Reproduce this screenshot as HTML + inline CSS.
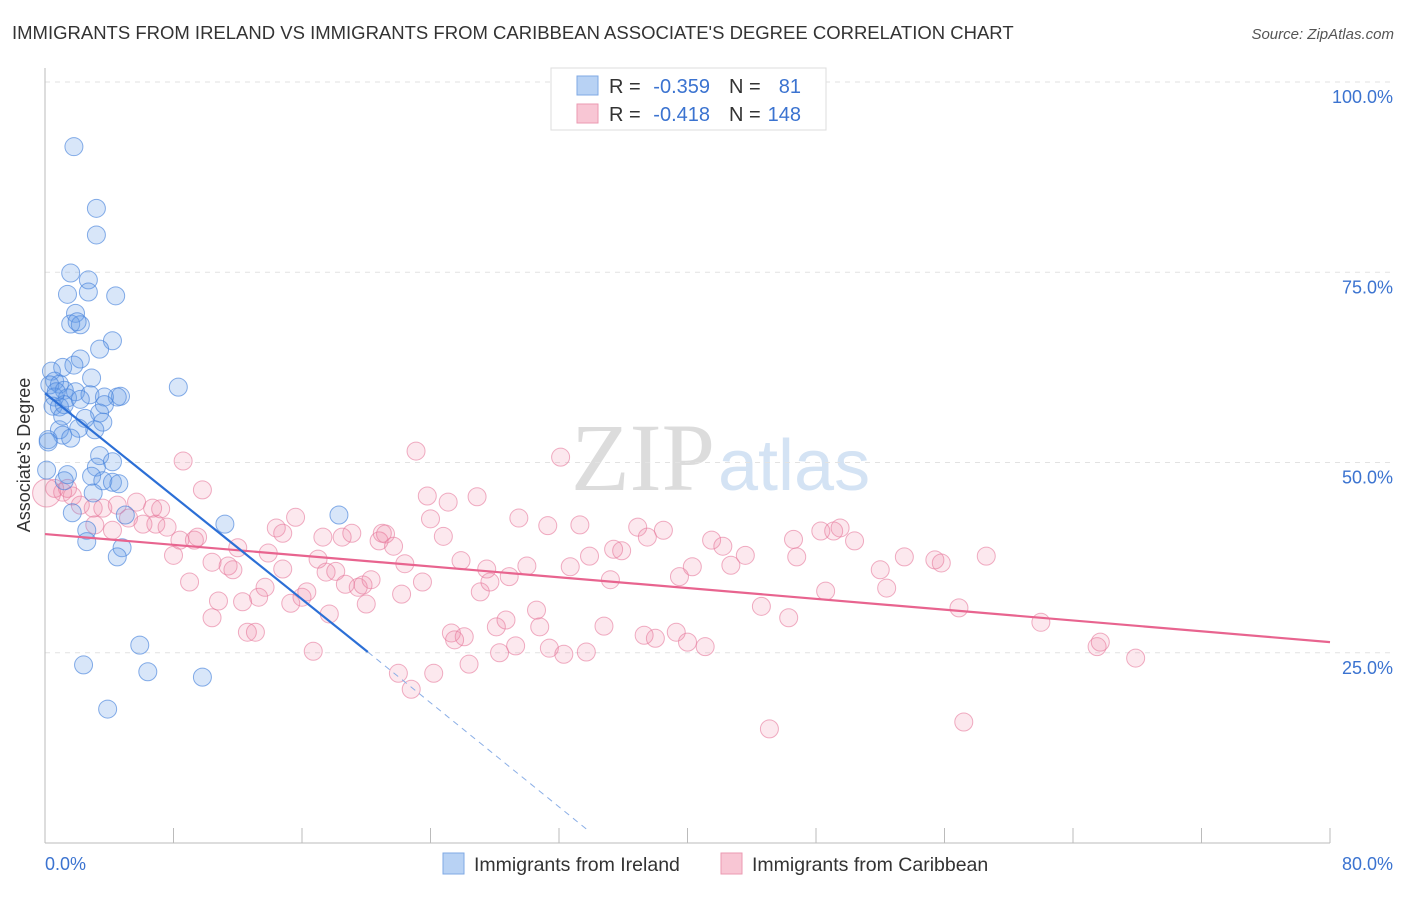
<!DOCTYPE html>
<html><head><meta charset="utf-8"><style>
body{margin:0;background:#fff;font-family:"Liberation Sans",sans-serif}
</style></head><body>
<svg width="1406" height="892" xmlns="http://www.w3.org/2000/svg" font-family="Liberation Sans, sans-serif">
<text x="12" y="39" font-size="18.5" fill="#333">IMMIGRANTS FROM IRELAND VS IMMIGRANTS FROM CARIBBEAN ASSOCIATE'S DEGREE CORRELATION CHART</text>
<text x="1394" y="39" font-size="15" fill="#555" text-anchor="end" font-style="italic">Source: ZipAtlas.com</text>
<text x="715" y="490" font-size="96" fill="#dcdcdc" text-anchor="end" font-family="Liberation Serif, serif">ZIP</text>
<text x="718" y="490" font-size="72" fill="#d4e3f4">atlas</text>
<g id="grid"></g><g id="axes"></g><g id="pts"></g><g id="lines"></g>
<text x="30" y="455" font-size="18" fill="#333" text-anchor="middle" transform="rotate(-90 30 455)">Associate's Degree</text>
<g>
<rect x="551" y="68" width="275" height="62" fill="#fff" stroke="#ddd"/>
<rect x="577" y="76" width="21" height="19" fill="#b8d2f4" stroke="#7fa9e4"/>
<rect x="577" y="104" width="21" height="19" fill="#f8c6d4" stroke="#eb9ab2"/>
<text x="609" y="93" font-size="20" fill="#333">R =</text>
<text x="710" y="93" font-size="20" fill="#3b73d0" text-anchor="end">-0.359</text>
<text x="729" y="93" font-size="20" fill="#333">N =</text>
<text x="801" y="93" font-size="20" fill="#3b73d0" text-anchor="end">81</text>
<text x="609" y="121" font-size="20" fill="#333">R =</text>
<text x="710" y="121" font-size="20" fill="#3b73d0" text-anchor="end">-0.418</text>
<text x="729" y="121" font-size="20" fill="#333">N =</text>
<text x="801" y="121" font-size="20" fill="#3b73d0" text-anchor="end">148</text>
</g>
<g>
<rect x="443" y="853" width="21" height="21" fill="#b8d2f4" stroke="#7fa9e4"/>
<text x="474" y="871" font-size="19.5" fill="#333">Immigrants from Ireland</text>
<rect x="721" y="853" width="21" height="21" fill="#f8c6d4" stroke="#eb9ab2"/>
<text x="752" y="871" font-size="19.5" fill="#333">Immigrants from Caribbean</text>
</g>
</svg>
<script>
const xTicks=[0,8,16,24,32,40,48,56,64,72,80];
const yTicks=[25,50,75,100];
const yTickLabels=["25.0%","50.0%","75.0%","100.0%"];
const xEndLabels=["0.0%","80.0%"];
const irelandX=[1.8,3.2,3.2,1.6,2.7,1.4,2.7,4.4,1.9,1.6,2.2,2.0,4.2,3.4,2.2,1.1,0.4,1.8,2.9,0.6,0.9,0.3,1.2,1.9,2.8,4.7,4.5,3.7,8.3,0.6,1.4,0.5,0.9,1.2,3.7,3.4,2.5,3.6,2.1,0.9,1.1,1.6,0.2,0.2,3.4,4.2,3.2,1.4,2.9,1.2,3.6,4.2,4.6,3.0,1.7,5.0,11.2,18.3,2.6,2.6,4.8,4.5,5.9,2.4,6.4,9.8,3.9,0.7,2.2,1.1,0.1,3.1];
const irelandY=[91.5,83.4,79.9,74.9,74.0,72.1,72.4,71.9,69.6,68.2,68.1,68.5,66.0,64.9,63.6,62.5,62.0,62.8,61.1,60.7,60.3,60.2,59.5,59.3,58.9,58.7,58.6,58.6,59.9,58.6,58.5,57.4,57.3,57.6,57.6,56.5,55.8,55.3,54.5,54.3,53.6,53.2,53.0,52.7,50.9,50.1,49.4,48.4,48.2,47.6,47.6,47.4,47.2,46.0,43.4,43.1,41.9,43.1,41.1,39.6,38.8,37.6,26.0,23.4,22.5,21.8,17.6,59.3,58.3,56.1,49.0,54.3];
const caribX=[0.1,0.6,1.1,1.4,1.7,2.2,3.0,3.6,3.1,4.2,4.5,5.2,5.7,6.1,6.7,7.2,6.9,7.6,8.6,9.8,8.0,8.4,9.3,9.5,9.0,10.4,10.8,10.4,11.4,11.7,12.0,12.3,12.6,13.1,13.3,13.7,13.9,14.4,14.8,14.8,15.3,15.6,16.0,16.3,16.7,17.0,17.3,17.5,17.7,18.1,18.5,18.7,19.1,19.5,19.8,20.0,20.3,20.8,21.0,21.2,21.7,22.0,22.4,22.2,22.8,23.1,23.5,24.0,23.8,24.2,24.8,25.1,25.3,25.5,25.9,26.1,26.4,26.9,27.1,27.5,27.7,28.1,28.3,28.7,28.9,29.3,29.5,30.0,30.6,30.8,31.3,31.4,32.1,32.3,32.7,33.3,33.7,33.9,34.8,35.2,35.4,35.9,36.9,37.3,37.5,38.0,38.5,39.3,39.5,40.0,40.3,41.1,41.5,42.2,42.7,43.6,44.6,45.1,46.3,46.6,46.8,48.6,48.3,49.1,49.5,50.4,52.0,52.4,53.5,55.4,55.8,56.9,57.2,58.6,62.0,65.5,65.7,67.9];
const caribY=[46.0,46.6,46.1,46.6,45.6,44.4,44.0,44.0,41.8,41.1,44.4,42.7,44.8,41.9,44.0,43.9,41.9,41.5,50.2,46.4,37.8,39.8,39.8,40.2,34.3,36.9,31.8,29.6,36.4,35.9,38.8,31.7,27.7,27.7,32.3,33.6,38.1,41.4,40.7,36.0,31.5,42.8,32.3,33.0,25.2,37.3,40.2,35.6,30.1,35.7,40.2,34.0,40.7,33.6,33.9,31.4,34.6,39.7,40.7,40.6,39.0,22.3,36.7,32.7,20.2,51.5,34.3,42.6,45.6,22.3,40.3,44.8,27.6,26.7,37.1,27.1,23.5,45.5,33.0,36.0,34.3,28.4,25.0,29.3,35.0,25.9,42.7,36.4,30.6,28.4,41.7,25.6,50.7,24.8,36.3,41.8,25.1,37.7,28.5,34.6,38.6,38.4,41.5,27.3,40.2,26.9,41.1,27.7,35.0,26.4,36.3,25.8,39.8,39.0,36.5,37.8,31.1,15.0,29.6,39.9,37.6,33.1,41.0,41.0,41.4,39.7,35.9,33.5,37.6,37.2,36.8,30.9,15.9,37.7,29.0,25.8,26.4,24.3];
const irelandTrend=[[0,59.1],[20.1,25.1]];
const irelandTrendDash=[[20.1,25.1],[33.9,1.5]];
const caribTrend=[[0,40.6],[80,26.4]];
const X=v=>45+v/80*1285, Y=v=>843-v/100*761;
const NS="http://www.w3.org/2000/svg";
function mk(tag,attrs,parent){const e=document.createElementNS(NS,tag);for(const k in attrs)e.setAttribute(k,attrs[k]);document.getElementById(parent).appendChild(e);return e;}
yTicks.forEach((t,i)=>{
 const g=mk('line',{x1:45,x2:1394,y1:Y(t),y2:Y(t),stroke:'#e2e2e2','stroke-dasharray':'5 5'},'grid');
 
 
 const l=mk('text',{x:1393,y:Y(t)+21,'font-size':18,fill:'#3b73d0','text-anchor':'end'},'axes');
 l.textContent=yTickLabels[i];
 
 
});
let a=mk('line',{x1:45,x2:45,y1:68,y2:843,stroke:'#bbb'},'axes');


a=mk('line',{x1:45,x2:1330,y1:843,y2:843,stroke:'#bbb'},'axes');


xTicks.forEach(t=>{const e=mk('line',{x1:X(t),x2:X(t),y1:828,y2:843,stroke:'#bbb'},'axes');
 
 });
[[0,'start',45],[1,'end',1393]].forEach(([i,anc,x])=>{const e=mk('text',{x:x,y:870,'font-size':18,fill:'#3b73d0','text-anchor':anc},'axes');e.textContent=xEndLabels[i];
 
 });
caribX.forEach((v,i)=>{const c=mk('circle',{cx:X(v),cy:Y(caribY[i]),r:i==0?14:9,fill:'rgba(240,130,160,0.18)',stroke:'rgba(230,120,155,0.6)','stroke-width':1},'pts');
 
 });
irelandX.forEach((v,i)=>{const c=mk('circle',{cx:X(v),cy:Y(irelandY[i]),r:9,fill:'rgba(100,155,230,0.25)',stroke:'rgba(70,130,220,0.65)','stroke-width':1},'pts');
 
 });
function ln(p,st,dash,name){const e=mk('line',{x1:X(p[0][0]),y1:Y(p[0][1]),x2:X(p[1][0]),y2:Y(p[1][1]),stroke:st,'stroke-width':dash?1:2.2,'stroke-dasharray':dash?'6 5':'none'},'lines');
 
 }
ln(caribTrend,'#e8648f',false,'caribbean-trend-line');
ln(irelandTrend,'#2c6fd6',false,'ireland-trend-line');
ln(irelandTrendDash,'#8aaee6',true,'ireland-trend-extension');
</script>
</body></html>
